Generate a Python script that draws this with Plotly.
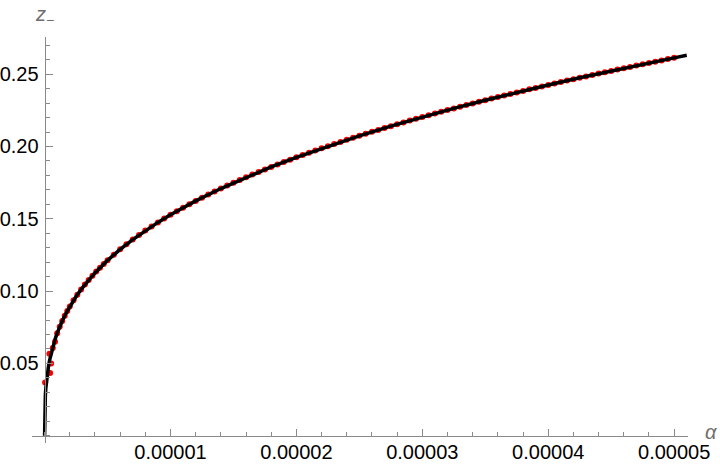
import plotly.graph_objects as go

# ---- data, alpha in units of 1e-5 ----
line_alpha = [0, 0.0002, 0.001, 0.003, 0.006, 0.01, 0.015, 0.02, 0.03, 0.04, 0.055, 0.07,
              0.085, 0.1, 0.12, 0.14, 0.17, 0.2, 0.25, 0.3, 0.35, 0.4, 0.5, 0.6, 0.7, 0.8,
              0.9, 1.0, 1.2, 1.4, 1.6, 1.8, 2.0, 2.25, 2.5, 2.75, 3.0, 3.25, 3.5, 3.75,
              4.0, 4.25, 4.5, 4.75, 5.0, 5.1]
line_z = [0, 0.00894, 0.01528, 0.02204, 0.02777, 0.03292, 0.03768, 0.04148, 0.04748, 0.05226,
          0.05811, 0.06297, 0.06718, 0.07092, 0.07537, 0.07934, 0.08465, 0.08936, 0.09626,
          0.10229, 0.10768, 0.11258, 0.12128, 0.12888, 0.13567, 0.14185, 0.14753, 0.15280,
          0.16237, 0.17094, 0.17872, 0.18587, 0.19252, 0.20022, 0.20738, 0.21408, 0.22038,
          0.22634, 0.23199, 0.23739, 0.24256, 0.24751, 0.25227, 0.25685, 0.26128, 0.26302]

pts_alpha = [0.004, 0.044, 0.052, 0.038, 0.065, 0.083,
             0.10, 0.12, 0.14, 0.16, 0.18, 0.20, 0.23, 0.26, 0.29, 0.32, 0.35, 0.38, 0.41,
             0.44, 0.47, 0.50, 0.55, 0.60, 0.65, 0.70, 0.75, 0.80, 0.85, 0.90, 0.95, 1.00,
             1.05, 1.10, 1.15, 1.20, 1.25, 1.30, 1.35, 1.40, 1.45, 1.50, 1.55, 1.60, 1.65,
             1.70, 1.75, 1.80, 1.85, 1.90, 1.95, 2.00, 2.05, 2.10, 2.15, 2.20, 2.25, 2.30,
             2.35, 2.40, 2.45, 2.50, 2.55, 2.60, 2.65, 2.70, 2.75, 2.80, 2.85, 2.90, 2.95,
             3.00, 3.05, 3.10, 3.15, 3.20, 3.25, 3.30, 3.35, 3.40, 3.45, 3.50, 3.55, 3.60,
             3.65, 3.70, 3.75, 3.80, 3.85, 3.90, 3.95, 4.00, 4.05, 4.10, 4.15, 4.20, 4.25,
             4.30, 4.35, 4.40, 4.45, 4.50, 4.55, 4.60, 4.65, 4.70, 4.75, 4.80, 4.85, 4.90,
             4.95, 5.00]
pts_z = [0.0369, 0.0434, 0.0500, 0.0567, 0.0606, 0.0650,
         0.07092, 0.07537, 0.07934, 0.08295, 0.08627, 0.08936, 0.09362, 0.09753, 0.10114,
         0.10451, 0.10768, 0.11068, 0.11352, 0.11622, 0.11880, 0.12128, 0.12519, 0.12888,
         0.13236, 0.13567, 0.13883, 0.14185, 0.14474, 0.14753, 0.15021, 0.15280, 0.15531,
         0.15773, 0.16009, 0.16237, 0.16460, 0.16676, 0.16888, 0.17094, 0.17295, 0.17491,
         0.17683, 0.17872, 0.18056, 0.18236, 0.18413, 0.18587, 0.18758, 0.18925, 0.19090,
         0.19252, 0.19411, 0.19567, 0.19721, 0.19873, 0.20022, 0.20170, 0.20315, 0.20458,
         0.20599, 0.20738, 0.20876, 0.21011, 0.21145, 0.21277, 0.21408, 0.21537, 0.21664,
         0.21790, 0.21914, 0.22038, 0.22159, 0.22280, 0.22399, 0.22517, 0.22634, 0.22749,
         0.22863, 0.22976, 0.23089, 0.23199, 0.23310, 0.23418, 0.23526, 0.23633, 0.23739,
         0.23844, 0.23949, 0.24052, 0.24154, 0.24256, 0.24356, 0.24456, 0.24555, 0.24653,
         0.24751, 0.24847, 0.24943, 0.25038, 0.25133, 0.25227, 0.25320, 0.25412, 0.25504,
         0.25595, 0.25685, 0.25775, 0.25865, 0.25953, 0.26041, 0.26128]

x_tick_vals = [1e-5, 2e-5, 3e-5, 4e-5, 5e-5]
x_tick_text = ["0.00001", "0.00002", "0.00003", "0.00004", "0.00005"]
y_tick_vals = [0.05, 0.10, 0.15, 0.20, 0.25]
y_tick_text = ["0.05", "0.10", "0.15", "0.20", "0.25"]

SCALE = 1e-5
X_RANGE = [-1.0e-6, 5.11e-5]
Y_RANGE = [-0.005, 0.2757]

fig = go.Figure()
fig.add_trace(go.Scatter(
    x=[a * SCALE for a in pts_alpha], y=pts_z, mode="markers",
    marker=dict(color="rgb(255,0,0)", size=6, line=dict(width=0)),
    showlegend=False, hoverinfo="skip", cliponaxis=False))
fig.add_trace(go.Scatter(
    x=[a * SCALE for a in line_alpha], y=line_z, mode="lines",
    line=dict(color="black", width=3.5),
    showlegend=False, hoverinfo="skip"))

axis_gray = "#8a8a8a"
fx = (0 - X_RANGE[0]) / (X_RANGE[1] - X_RANGE[0])
fy = (0 - Y_RANGE[0]) / (Y_RANGE[1] - Y_RANGE[0])
LABEL_SIZE = 20

fig.update_layout(
    width=720, height=470,
    margin=dict(l=32, r=32, t=37, b=27, autoexpand=False),
    paper_bgcolor="white", plot_bgcolor="white",
    font=dict(family="Liberation Sans, Arial, sans-serif", size=LABEL_SIZE, color="black"),
    xaxis=dict(
        range=X_RANGE, showgrid=False, zeroline=False, automargin=False,
        showline=True, linecolor=axis_gray, linewidth=1,
        anchor="free", position=fy,
        tickmode="array", tickvals=x_tick_vals, ticktext=x_tick_text,
        ticks="inside", ticklen=7, tickwidth=1, tickcolor=axis_gray,
        ticklabelstandoff=-2,
        minor=dict(tickmode="linear", tick0=0, dtick=2e-6, ticks="inside",
                   ticklen=4, tickwidth=1, tickcolor=axis_gray, showgrid=False),
        tickfont=dict(size=LABEL_SIZE, color="black"),
    ),
    yaxis=dict(
        range=Y_RANGE, showgrid=False, zeroline=False, automargin=False,
        showline=True, linecolor=axis_gray, linewidth=1,
        anchor="free", position=fx,
        tickmode="array", tickvals=y_tick_vals, ticktext=y_tick_text,
        ticks="inside", ticklen=7, tickwidth=1, tickcolor=axis_gray,
        ticklabelstandoff=2,
        minor=dict(tickmode="linear", tick0=0, dtick=0.01, ticks="inside",
                   ticklen=4, tickwidth=1, tickcolor=axis_gray, showgrid=False),
        tickfont=dict(size=LABEL_SIZE, color="black"),
    ),
    annotations=[
        dict(text="<i>α</i>", xref="paper", yref="paper", x=1.035, y=0.028,
             xanchor="center", yanchor="middle",
             showarrow=False, font=dict(size=LABEL_SIZE, color="#6e6e6e")),
        dict(text="<i>z</i><sub>−</sub>", xref="paper", yref="paper", x=0.0015, y=1.052,
             xanchor="left", yanchor="middle",
             showarrow=False, font=dict(size=LABEL_SIZE, color="#6e6e6e")),
    ],
)

fig.write_html("out.html", config={"displayModeBar": False},
               post_script="document.body.style.margin='0';")
